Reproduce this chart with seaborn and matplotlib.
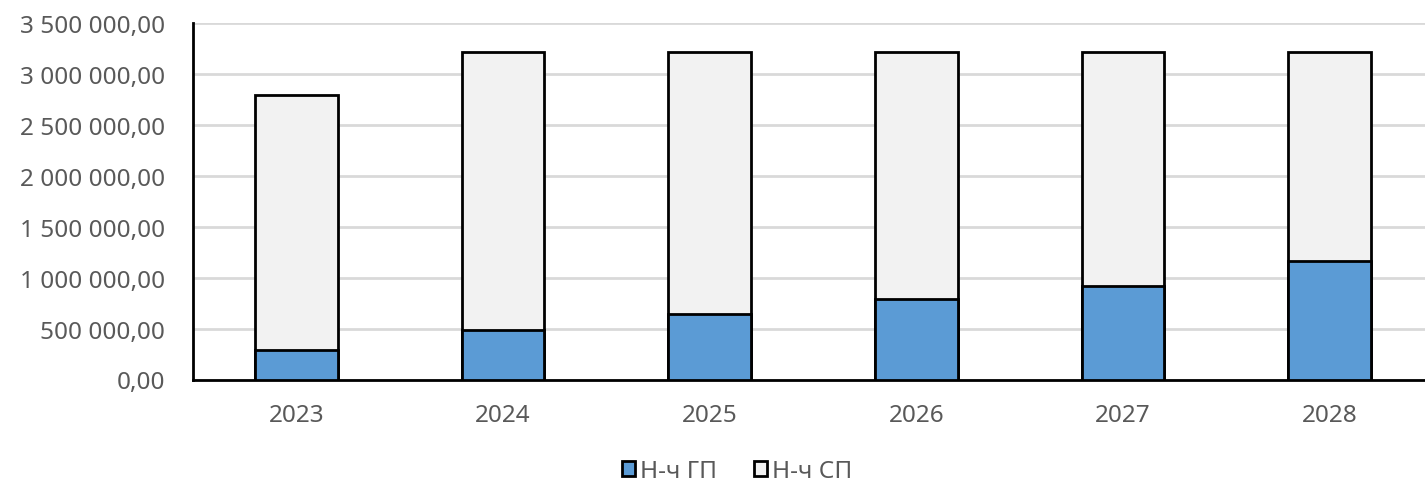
import matplotlib
matplotlib.use("Agg")
import matplotlib.pyplot as plt
import matplotlib.ticker as mticker
from matplotlib.patches import Patch
import seaborn as sns
import numpy as np

years = ["2023", "2024", "2025", "2026", "2027", "2028"]
gp_hours = [290000, 489000, 643000, 790000, 921000, 1163000]
total_hours = [2793000, 3218000, 3218000, 3218000, 3218000, 3218000]
sp_hours = [t - g for t, g in zip(total_hours, gp_hours)]
series_names = ["Н-ч ГП", "Н-ч СП"]

sns.set_theme(style="white")
plt.rcParams["font.family"] = ["Noto Sans", "DejaVu Sans"]

fig = plt.figure(figsize=(14.25, 4.85), dpi=100)
ax = fig.add_axes([193 / 1425, 104.5 / 485, 1240 / 1425, 356.5 / 485])

blue = "#5b9bd5"
grey = "#f2f2f2"

# stacked: total (grey) behind, GP (blue) in front
sns.barplot(x=years, y=total_hours, color=grey, edgecolor="black",
            linewidth=2, width=0.4, ax=ax, zorder=3, saturation=1)
sns.barplot(x=years, y=gp_hours, color=blue, edgecolor="black",
            linewidth=2, width=0.4, ax=ax, zorder=4, saturation=1)

ax.set_ylim(0, 3500000)
ax.set_xlim(-0.5, 5.5)
ax.yaxis.set_major_locator(mticker.MultipleLocator(500000))


def fmt(v, pos):
    s = f"{v:,.2f}".replace(",", " ").replace(".", ",")
    return s


ax.yaxis.set_major_formatter(mticker.FuncFormatter(fmt))
ax.grid(axis="y", color="#d9d9d9", linewidth=2, zorder=0)
ax.set_axisbelow(True)
for side in ["top", "right"]:
    ax.spines[side].set_visible(False)
for side in ["left", "bottom"]:
    ax.spines[side].set_color("black")
    ax.spines[side].set_linewidth(2)
ax.tick_params(axis="both", colors="#595959", labelsize=17.5, length=0)
ax.tick_params(axis="x", pad=17)
ax.tick_params(axis="y", pad=20)
ax.set_xlabel("")
ax.set_ylabel("")

handles = [Patch(facecolor=blue, edgecolor="black", linewidth=2),
           Patch(facecolor=grey, edgecolor="black", linewidth=2)]
leg = fig.legend(handles, series_names, loc="center",
                 bbox_to_anchor=(737 / 1425, 1 - 472 / 485), ncol=2,
                 frameon=False, fontsize=17.5, handlelength=0.55,
                 handleheight=0.55, handletextpad=0.2, columnspacing=1.5)
for t in leg.get_texts():
    t.set_color("#595959")

fig.savefig("out.png", dpi=100)
